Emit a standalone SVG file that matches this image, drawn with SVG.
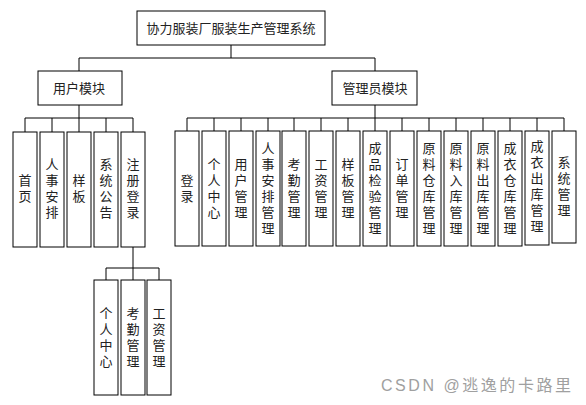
<svg xmlns="http://www.w3.org/2000/svg" width="586" height="405" viewBox="0 0 586 405">
<style>
.b{fill:#fff;stroke:#000;stroke-width:1}
.t{font-family:"Liberation Serif","Noto Sans CJK SC",serif;font-size:13px;fill:#222;text-anchor:middle;dominant-baseline:central}
.c{fill:none;stroke:#000;stroke-width:1}
.w{font-family:"Liberation Sans","Noto Sans CJK SC",sans-serif;font-size:16px;fill:#a0a0a0}
</style>
<rect width="586" height="405" fill="#fff"/>
<g id="connectors" class="c">
<path d="M231 45V58M79 58H375M79 58V71M375 58V71"/>
<path d="M79 105V118M25 118H133M25 118V132M52 118V132M79 118V132M106 118V132M133 118V132"/>
<path d="M375 105V118M187 118H564M187 118V131M214 118V131M241 118V131M268 118V131M294 118V131M321 118V131M348 118V131M375 118V131M402 118V131M429 118V131M456 118V131M483 118V131M510 118V131M537 118V131M564 118V131"/>
<path d="M133 247V268M106 268H159M106 268V280M133 268V280M159 268V280"/>
</g>
<g id="root"><rect class="b" x="137" y="11" width="188" height="34"/><text class="t" x="231" y="28">协力服装厂服装生产管理系统</text></g>
<g id="user"><rect class="b" x="38" y="71" width="84" height="34"/><text class="t" x="79" y="88">用户模块</text></g>
<g id="admin"><rect class="b" x="332" y="71" width="85" height="34"/><text class="t" x="375" y="88">管理员模块</text></g>

<g id="u1"><rect class="b" x="13" y="132" width="24" height="115"/><text class="t"><tspan x="25" y="180">首</tspan><tspan x="25" y="196">页</tspan></text></g>
<g id="u2"><rect class="b" x="40" y="132" width="24" height="115"/><text class="t"><tspan x="52" y="164">人</tspan><tspan x="52" y="180">事</tspan><tspan x="52" y="196">安</tspan><tspan x="52" y="212">排</tspan></text></g>
<g id="u3"><rect class="b" x="67" y="132" width="24" height="115"/><text class="t"><tspan x="79" y="180">样</tspan><tspan x="79" y="196">板</tspan></text></g>
<g id="u4"><rect class="b" x="94" y="132" width="24" height="115"/><text class="t"><tspan x="106" y="164">系</tspan><tspan x="106" y="180">统</tspan><tspan x="106" y="196">公</tspan><tspan x="106" y="212">告</tspan></text></g>
<g id="u5"><rect class="b" x="121" y="132" width="24" height="115"/><text class="t"><tspan x="133" y="164">注</tspan><tspan x="133" y="180">册</tspan><tspan x="133" y="196">登</tspan><tspan x="133" y="212">录</tspan></text></g>

<g id="s1"><rect class="b" x="94" y="280" width="24" height="115"/><text class="t"><tspan x="106" y="313">个</tspan><tspan x="106" y="329">人</tspan><tspan x="106" y="345">中</tspan><tspan x="106" y="361">心</tspan></text></g>
<g id="s2"><rect class="b" x="121" y="280" width="24" height="115"/><text class="t"><tspan x="133" y="313">考</tspan><tspan x="133" y="329">勤</tspan><tspan x="133" y="345">管</tspan><tspan x="133" y="361">理</tspan></text></g>
<g id="s3"><rect class="b" x="147" y="280" width="24" height="115"/><text class="t"><tspan x="159" y="313">工</tspan><tspan x="159" y="329">资</tspan><tspan x="159" y="345">管</tspan><tspan x="159" y="361">理</tspan></text></g>

<g id="a1"><rect class="b" x="175" y="131" width="24" height="115"/><text class="t"><tspan x="187" y="180">登</tspan><tspan x="187" y="196">录</tspan></text></g>
<g id="a2"><rect class="b" x="202" y="131" width="24" height="115"/><text class="t"><tspan x="214" y="164">个</tspan><tspan x="214" y="180">人</tspan><tspan x="214" y="196">中</tspan><tspan x="214" y="212">心</tspan></text></g>
<g id="a3"><rect class="b" x="229" y="131" width="24" height="115"/><text class="t"><tspan x="241" y="164">用</tspan><tspan x="241" y="180">户</tspan><tspan x="241" y="196">管</tspan><tspan x="241" y="212">理</tspan></text></g>
<g id="a4"><rect class="b" x="256" y="131" width="24" height="115"/><text class="t"><tspan x="268" y="148">人</tspan><tspan x="268" y="164">事</tspan><tspan x="268" y="180">安</tspan><tspan x="268" y="196">排</tspan><tspan x="268" y="212">管</tspan><tspan x="268" y="228">理</tspan></text></g>
<g id="a5"><rect class="b" x="282" y="131" width="24" height="115"/><text class="t"><tspan x="294" y="164">考</tspan><tspan x="294" y="180">勤</tspan><tspan x="294" y="196">管</tspan><tspan x="294" y="212">理</tspan></text></g>
<g id="a6"><rect class="b" x="309" y="131" width="24" height="115"/><text class="t"><tspan x="321" y="164">工</tspan><tspan x="321" y="180">资</tspan><tspan x="321" y="196">管</tspan><tspan x="321" y="212">理</tspan></text></g>
<g id="a7"><rect class="b" x="336" y="131" width="24" height="115"/><text class="t"><tspan x="348" y="164">样</tspan><tspan x="348" y="180">板</tspan><tspan x="348" y="196">管</tspan><tspan x="348" y="212">理</tspan></text></g>
<g id="a8"><rect class="b" x="363" y="131" width="24" height="115"/><text class="t"><tspan x="375" y="148">成</tspan><tspan x="375" y="164">品</tspan><tspan x="375" y="180">检</tspan><tspan x="375" y="196">验</tspan><tspan x="375" y="212">管</tspan><tspan x="375" y="228">理</tspan></text></g>
<g id="a9"><rect class="b" x="390" y="131" width="24" height="115"/><text class="t"><tspan x="402" y="164">订</tspan><tspan x="402" y="180">单</tspan><tspan x="402" y="196">管</tspan><tspan x="402" y="212">理</tspan></text></g>
<g id="a10"><rect class="b" x="417" y="131" width="24" height="115"/><text class="t"><tspan x="429" y="148">原</tspan><tspan x="429" y="164">料</tspan><tspan x="429" y="180">仓</tspan><tspan x="429" y="196">库</tspan><tspan x="429" y="212">管</tspan><tspan x="429" y="228">理</tspan></text></g>
<g id="a11"><rect class="b" x="444" y="131" width="24" height="115"/><text class="t"><tspan x="456" y="148">原</tspan><tspan x="456" y="164">料</tspan><tspan x="456" y="180">入</tspan><tspan x="456" y="196">库</tspan><tspan x="456" y="212">管</tspan><tspan x="456" y="228">理</tspan></text></g>
<g id="a12"><rect class="b" x="471" y="131" width="24" height="115"/><text class="t"><tspan x="483" y="148">原</tspan><tspan x="483" y="164">料</tspan><tspan x="483" y="180">出</tspan><tspan x="483" y="196">库</tspan><tspan x="483" y="212">管</tspan><tspan x="483" y="228">理</tspan></text></g>
<g id="a13"><rect class="b" x="498" y="131" width="24" height="115"/><text class="t"><tspan x="510" y="148">成</tspan><tspan x="510" y="164">衣</tspan><tspan x="510" y="180">仓</tspan><tspan x="510" y="196">库</tspan><tspan x="510" y="212">管</tspan><tspan x="510" y="228">理</tspan></text></g>
<g id="a14"><rect class="b" x="525" y="131" width="24" height="114"/><text class="t"><tspan x="537" y="146">成</tspan><tspan x="537" y="162">衣</tspan><tspan x="537" y="178">出</tspan><tspan x="537" y="194">库</tspan><tspan x="537" y="210">管</tspan><tspan x="537" y="226">理</tspan></text></g>
<g id="a15"><rect class="b" x="552" y="131" width="24" height="112"/><text class="t"><tspan x="564" y="162">系</tspan><tspan x="564" y="178">统</tspan><tspan x="564" y="194">管</tspan><tspan x="564" y="210">理</tspan></text></g>

<text class="w" x="381" y="391" textLength="190" lengthAdjust="spacing">CSDN @逃逸的卡路里</text>
</svg>
